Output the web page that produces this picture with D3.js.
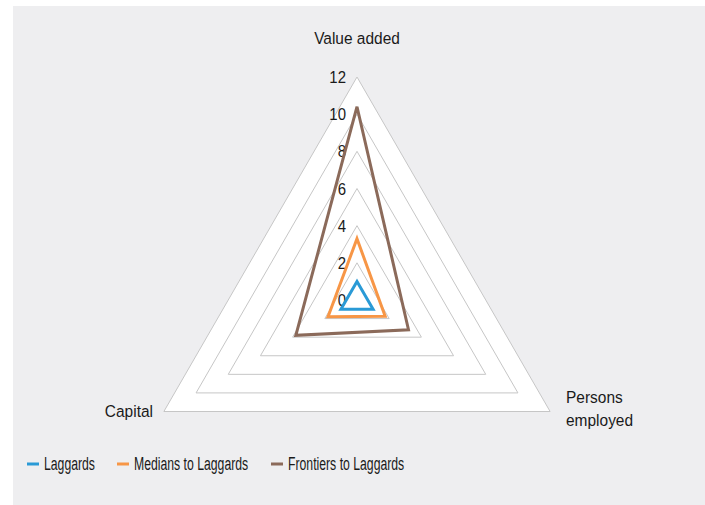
<!DOCTYPE html>
<html>
<head>
<meta charset="utf-8">
<script src="https://cdn.jsdelivr.net/npm/d3@7"></script>
<style>
  body { margin: 0; background: #fff; }
  text { font-family: "Liberation Sans", Arial, sans-serif; fill: #1a1a1a; }
</style>
</head>
<body>
<script>
var axesNames = ["Value added", "Persons employed", "Capital"];
var seriesNames = ["Laggards", "Medians to Laggards", "Frontiers to Laggards"];
var laggards = [1, 1, 1];
var medians = [3.3, 1.75, 1.8];
var frontiers = [10.4, 3.2, 3.8];
var tickValues = [0, 2, 4, 6, 8, 10, 12];
var colors = ["#2a9ad6", "#f79646", "#8b6a5a"];

var width = 705, height = 505;
var cx = 357, cy = 300, radius = 223;

var svg = d3.select("body").append("svg")
    .attr("width", width)
    .attr("height", height);

svg.append("rect")
    .attr("x", 13).attr("y", 6)
    .attr("width", width - 13).attr("height", height - 6)
    .attr("fill", "#eeeef0");

var r = d3.scaleLinear().domain([0, 12]).range([0, radius]);
var angle = function(i) { return i * 2 * Math.PI / 3; };
var px = function(i, v) { return cx + r(v) * Math.sin(angle(i)); };
var py = function(i, v) { return cy - r(v) * Math.cos(angle(i)); };

var line = d3.line()
    .x(function(d) { return px(d.i, d.v); })
    .y(function(d) { return py(d.i, d.v); })
    .curve(d3.curveLinearClosed);

function pts(vals) { return vals.map(function(v, i) { return {i: i, v: v}; }); }

// squeezed text to mimic the condensed font
function label(parent, x, y, str, anchor, size, sq) {
  return parent.append("text")
      .attr("transform", "translate(" + x + "," + y + ") scale(" + sq + ",1)")
      .attr("text-anchor", anchor || "start")
      .attr("font-size", size)
      .text(str);
}

var g = svg.append("g");

// white plot area
g.append("path")
    .attr("d", line(pts([12, 12, 12])))
    .attr("fill", "#fff");

// grid
g.selectAll(".grid")
    .data(tickValues.filter(function(t) { return t > 0; }))
    .enter().append("path")
    .attr("class", "grid")
    .attr("d", function(t) { return line(pts([t, t, t])); })
    .attr("fill", "none")
    .attr("stroke", "#c6c6c6")
    .attr("stroke-width", 1);

// tick labels
tickValues.forEach(function(t) {
  label(g, cx - 11, cy - r(t) + 6, t, "end", 17, 0.88);
});

// series
var data = [laggards, medians, frontiers];
g.selectAll(".series")
    .data(data)
    .enter().append("path")
    .attr("class", "series")
    .attr("d", function(d) { return line(pts(d)); })
    .attr("fill", "none")
    .attr("stroke", function(d, i) { return colors[i]; })
    .attr("stroke-width", 3)
    .attr("stroke-linejoin", "miter");

// axis labels
label(svg, cx, 44, axesNames[0], "middle", 17, 0.91);
label(svg, 566, 403, "Persons", "start", 17, 0.91);
label(svg, 566, 426, "employed", "start", 17, 0.91);
label(svg, 153, 417, axesNames[2], "end", 17, 0.91);

// legend
var legendX = [27, 117, 271];
seriesNames.forEach(function(name, i) {
  svg.append("line")
      .attr("x1", legendX[i]).attr("x2", legendX[i] + 12)
      .attr("y1", 464).attr("y2", 464)
      .attr("stroke", colors[i])
      .attr("stroke-width", 3);
  label(svg, legendX[i] + 17, 470, name, "start", 18, 0.68);
});
</script>
</body>
</html>
